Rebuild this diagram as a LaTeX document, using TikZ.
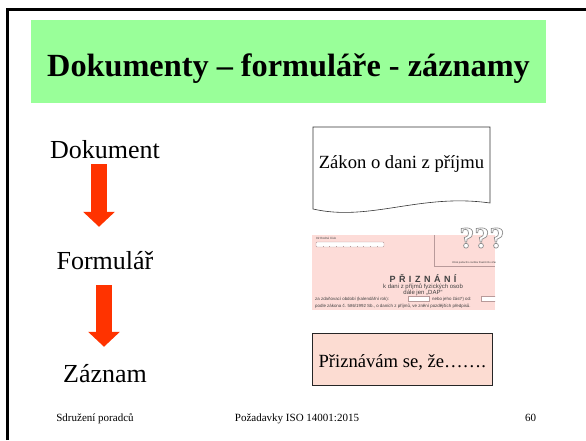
\documentclass[tikz,border=0pt]{standalone}
\usepackage{fontspec}
\setmainfont{Liberation Serif}
\newfontfamily\formfont{Liberation Sans}
\usetikzlibrary{arrows.meta}

\definecolor{titlegreen}{HTML}{99FF99}
\definecolor{arrowred}{HTML}{FF3300}
\definecolor{formpink}{HTML}{FDDCD8}
\definecolor{boxpink}{HTML}{FCDCD2}
\definecolor{formline}{HTML}{B89A9A}

% outlined glyphs: gray stroke, white fill
\newcommand{\outlinetext}[1]{\special{pdf:code q 2 Tr 0.7 w 0.55 G 1 g}#1\special{pdf:code Q}}

\tikzset{
  stagetext/.style={font=\fontsize{26}{30}\selectfont, anchor=base, text height=18pt, text depth=0pt},
  downarrow/.style={arrowred, line width=16pt, -{Triangle[width=31pt,length=15pt]}},
  boxtext/.style={font=\fontsize{18.6}{22}\selectfont},
  foot/.style={font=\fontsize{11}{13}\selectfont, anchor=base},
  formtext/.style={font=\formfont\fontsize{4.4}{5}\selectfont, text=black!75, inner sep=0pt},
}

\begin{document}
\begin{tikzpicture}[x=1pt, y=-1pt, >=Stealth]
    \useasboundingbox (0,0) rectangle (586,440);
    % slide frame
    \draw[line width=3pt] (7,440) -- (7,9.5) -- (586,9.5);
    % title
    \node[fill=titlegreen, minimum width=515pt, minimum height=83pt, text height=36pt, text depth=6pt,
          font=\bfseries\fontsize{32.3}{38}\selectfont] (title) at (288.5,61.5) {Dokumenty – formuláře - záznamy};

    % left column
    \node[stagetext] (dok) at (105,158) {Dokument};
    \node[stagetext] (form) at (105,269) {Formulář};
    \node[stagetext] (zaz) at (105,382) {Záznam};
    \draw[downarrow] ([xshift=-6pt,yshift=-2.7pt]dok.south) -- ([xshift=-6pt,yshift=20.7pt]form.north);
    \draw[downarrow] ([xshift=-1pt,yshift=-12.7pt]form.south) -- ([xshift=-1pt,yshift=13.7pt]zaz.north);

    % document shape
    \draw[line width=0.6pt, black!80] (313,127) -- (490,127) -- (490,203)
        .. controls (420,193) and (370,222) .. (313,209) -- cycle;
    \node[boxtext, anchor=base] (law) at (401.5,168) {Zákon o dani z příjmu};

    % form picture
    \begin{scope}
        \clip (312,235) rectangle (495,310);
        \fill[formpink] (312,235) rectangle (495,310);
        \node[formtext, anchor=west, font=\formfont\fontsize{3}{4}\selectfont] (rc) at (316,238.5) {02 Rodné číslo};
        \draw[formline, fill=white, rounded corners=1pt] (316,242) rectangle (384,247);
        \foreach \i in {1,...,9}
            \draw[formline] (316+6.8*\i,247) -- ++(0,-1.5);
        \draw[formline] (434,235) -- (434,266) -- (495,266);
        \node[formtext, anchor=west, font=\formfont\fontsize{2.6}{3}\selectfont] (stamp) at (452,263) {Otisk podacího razítka finančního úřadu};
        \node[formtext, font=\formfont\bfseries\fontsize{9}{10}\selectfont] (dap) at (423,278)
            {P\kern3.5ptŘ\kern3.5ptI\kern3.5ptZ\kern3.5ptN\kern3.5ptÁ\kern3.5ptN\kern3.5ptÍ};
        \node[formtext, font=\formfont\fontsize{6}{7}\selectfont] (sub1) at (423,287) {k dani z příjmů fyzických osob};
        \node[formtext, font=\formfont\fontsize{6}{7}\selectfont] (sub2) at (423,292.5) {dále jen „DAP“};
        \node[formtext, anchor=west] (per) at (315,299) {za zdaňovací období (kalendářní rok):};
        \draw[formline, fill=white] (408,296.5) rectangle (429,301.5);
        \node[formtext, anchor=west] (part) at (432,299) {nebo jeho část*) od:};
        \draw[formline, fill=white] (481,296.5) rectangle (500,301.5);
        \node[formtext, anchor=west] (law2) at (315,306) {podle zákona č. 586/1992 Sb., o daních z příjmů, ve znění pozdějších předpisů.};
    \end{scope}
    \node[font=\bfseries\fontsize{30}{32}\selectfont] (quest) at (482,238) {\outlinetext{???}};

    % record
    \node[boxtext, draw=black!85, fill=boxpink, line width=0.8pt, minimum width=179.5pt, minimum height=52pt,
          text height=16pt, text depth=0pt] (rec) at (402.25,359) {Přiznávám se, že…….};

    % footer
    \node[foot] (org) at (95,421) {Sdružení poradců};
    \node[foot] (req) at (297,421) {Požadavky ISO 14001:2015};
    \node[foot] (page) at (530.5,421) {60};
\end{tikzpicture}
\end{document}
